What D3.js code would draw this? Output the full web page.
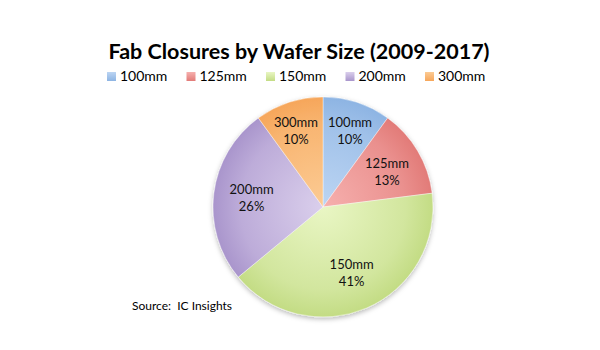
<!DOCTYPE html>
<html>
<head>
<meta charset="utf-8">
<script src="https://cdn.jsdelivr.net/npm/d3@7"></script>
<style>
  html, body { margin: 0; padding: 0; background: #fff; }
  svg { display: block; font-family: Lato, "Open Sans", sans-serif; }
</style>
</head>
<body>
<svg id="chart" width="600" height="350"></svg>
<script>
// Wafer sizes and their share of fab closures
const categories = ["100mm", "125mm", "150mm", "200mm", "300mm"];
const shares = [10, 13, 41, 26, 10];
const rimColors = ["#8db4e3", "#e27b78", "#c3dc84", "#a995cc", "#f6a65a"];
const coreColors = ["#bcd5f3", "#f6b0ae", "#e9f6c4", "#dacfec", "#fccb94"];

const svg = d3.select("#chart");
const cx = 323, cy = 207, R = 110;

// Title
svg.append("text")
  .attr("x", 299).attr("y", 59)
  .attr("text-anchor", "middle")
  .attr("font-size", 21.5).attr("font-weight", "bold")
  .attr("fill", "#000")
  .text("Fab Closures by Wafer Size (2009-2017)");

// Gradients and shadow
const defs = svg.append("defs");
categories.forEach((c, i) => {
  const g = defs.append("radialGradient")
    .attr("id", "grad" + i)
    .attr("gradientUnits", "userSpaceOnUse")
    .attr("cx", 0).attr("cy", 0).attr("r", R);
  g.append("stop").attr("offset", "0%").attr("stop-color", coreColors[i]);
  g.append("stop").attr("offset", "75%").attr("stop-color", d3.interpolateRgb(coreColors[i], rimColors[i])(0.6));
  g.append("stop").attr("offset", "100%").attr("stop-color", rimColors[i]);

  const lg = defs.append("linearGradient")
    .attr("id", "key" + i).attr("x1", 0).attr("y1", 0).attr("x2", 0).attr("y2", 1);
  lg.append("stop").attr("offset", "0%").attr("stop-color", coreColors[i]);
  lg.append("stop").attr("offset", "100%").attr("stop-color", rimColors[i]);
});
const shadow = defs.append("filter").attr("id", "shadow")
  .attr("x", "-20%").attr("y", "-20%").attr("width", "140%").attr("height", "140%");
shadow.append("feDropShadow")
  .attr("dx", 0).attr("dy", 2).attr("stdDeviation", 2.5)
  .attr("flood-color", "#000").attr("flood-opacity", 0.28);

// Legend
const legendX = d3.scalePoint().domain(categories).range([107, 425]);
const legend = svg.append("g").selectAll("g")
  .data(categories).join("g")
  .attr("transform", d => `translate(${legendX(d)},81)`);
legend.append("rect")
  .attr("x", 0).attr("y", -9).attr("width", 9).attr("height", 9)
  .attr("fill", (d, i) => `url(#key${i})`);
legend.append("text")
  .attr("x", 13).attr("y", 0)
  .attr("font-size", 14).attr("fill", "#000")
  .text(d => d);

// Pie
const pie = d3.pie().sort(null).value(d => d.value);
const arcs = pie(categories.map((c, i) => ({ name: c, value: shares[i], i })));
const arc = d3.arc().innerRadius(0).outerRadius(R);
const labelArc = d3.arc().innerRadius(72).outerRadius(72);

const g = svg.append("g").attr("transform", `translate(${cx},${cy})`);
g.append("g").attr("filter", "url(#shadow)")
  .selectAll("path").data(arcs).join("path")
  .attr("d", arc)
  .attr("fill", d => `url(#grad${d.data.i})`)
  .attr("stroke", "rgba(255,255,255,0.5)")
  .attr("stroke-width", 0.8);

// Slice labels: name over percentage
const base1 = -4, base2 = 13, capH = 10;
const labels = g.selectAll("text.lbl").data(arcs).join("text")
  .attr("class", "lbl")
  .attr("text-anchor", "middle")
  .attr("font-size", 13).attr("fill", "#111");
labels.append("tspan").attr("class", "l1").attr("x", 0).attr("y", base1).text(d => d.data.name);
labels.append("tspan").attr("class", "l2").attr("x", 0).attr("y", base2).text(d => d.data.value + "%");

// Nudge each label so both of its lines stay clear of the slice's straight edges
const pad = 5;
labels.attr("transform", function (d) {
  let [x, y] = labelArc.centroid(d);
  const w1 = d3.select(this).select(".l1").node().getComputedTextLength() / 2;
  const w2 = d3.select(this).select(".l2").node().getComputedTextLength() / 2;
  const corners = [
    [-w1, base1 - capH], [w1, base1 - capH], [-w1, base1], [w1, base1],
    [-w2, base2 - capH], [w2, base2 - capH], [-w2, base2], [w2, base2]
  ];
  const mid = (d.startAngle + d.endAngle) / 2;
  for (let k = 0; k < 20; k++) {
    [d.startAngle, d.endAngle].forEach(a => {
      const s = Math.sign(Math.sin(mid - a)) || 1;
      const nx = s * Math.cos(a), ny = s * Math.sin(a);
      const dist = d3.min(corners, ([u, v]) => nx * (x + u) + ny * (y + v));
      if (dist < pad) { x += nx * (pad - dist); y += ny * (pad - dist); }
    });
  }
  return `translate(${x},${y})`;
});

// Source note
svg.append("text")
  .attr("x", 132).attr("y", 310)
  .attr("font-size", 12).attr("fill", "#000")
  .style("white-space", "pre")
  .text("Source:  IC Insights");
</script>
</body>
</html>
